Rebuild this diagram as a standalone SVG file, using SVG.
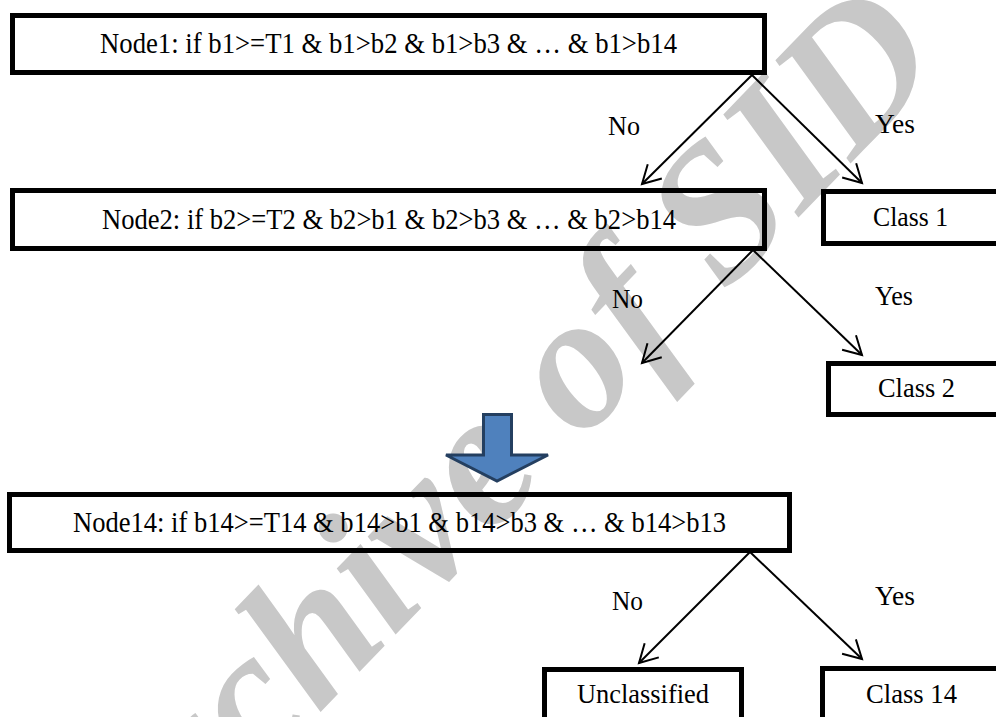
<svg xmlns="http://www.w3.org/2000/svg" width="996" height="717" viewBox="0 0 996 717">
<style>
.box{fill:none;stroke:#000;stroke-width:5}
.t{fill:#000}
.n{font-size:29px}
.l{font-size:28px}
.c{stroke:#000;stroke-width:2;fill:none}
.wm{font-weight:bold;font-style:italic;font-size:192px;fill:#c8c8c8}
</style>
<defs>
<marker id="ah" markerUnits="userSpaceOnUse" markerWidth="24" markerHeight="24" viewBox="-20 -12 24 24" refX="0" refY="0" orient="auto">
<path d="M-18,-10 L0,0 L-18,10" fill="none" stroke="#000" stroke-width="2"/>
</marker>
</defs>
<rect width="996" height="717" fill="#fff"/>
<text class="wm" font-family="'Liberation Serif', 'Times New Roman', serif" x="118" y="922" transform="rotate(-46 118 922)">Archive of SID</text>

<g id="node1">
<rect class="box" x="12.5" y="15.5" width="752" height="57"/>
<text class="t n" font-family="'Liberation Serif', 'Times New Roman', serif" x="100" y="53" textLength="577" lengthAdjust="spacingAndGlyphs">Node1: if b1&gt;=T1 &amp; b1&gt;b2 &amp; b1&gt;b3 &amp; … &amp; b1&gt;b14</text>
</g>
<g id="node2">
<rect class="box" x="12.5" y="190.5" width="752" height="58"/>
<text class="t n" font-family="'Liberation Serif', 'Times New Roman', serif" x="102" y="229" textLength="574" lengthAdjust="spacingAndGlyphs">Node2: if b2&gt;=T2 &amp; b2&gt;b1 &amp; b2&gt;b3 &amp; … &amp; b2&gt;b14</text>
</g>
<g id="class1">
<rect class="box" x="823.5" y="191.5" width="200" height="52"/>
<text class="t l" font-family="'Liberation Serif', 'Times New Roman', serif" x="873" y="226" textLength="75" lengthAdjust="spacingAndGlyphs">Class 1</text>
</g>
<g id="class2">
<rect class="box" x="828.5" y="363.5" width="200" height="51"/>
<text class="t l" font-family="'Liberation Serif', 'Times New Roman', serif" x="878" y="397" textLength="77" lengthAdjust="spacingAndGlyphs">Class 2</text>
</g>
<g id="bigarrow">
<polygon points="483.5,414.5 511.5,414.5 511.5,455 548,455 497,481 446,455 483.5,455" fill="#4F81BD" stroke="#243F60" stroke-width="3" stroke-linejoin="miter"/>
</g>
<g id="node14">
<rect class="box" x="9.5" y="494.5" width="780" height="56"/>
<text class="t n" font-family="'Liberation Serif', 'Times New Roman', serif" x="73" y="532" textLength="653" lengthAdjust="spacingAndGlyphs">Node14: if b14&gt;=T14 &amp; b14&gt;b1 &amp; b14&gt;b3 &amp; … &amp; b14&gt;b13</text>
</g>
<g id="unclassified">
<rect class="box" x="544.5" y="669.5" width="197" height="60"/>
<text class="t l" font-family="'Liberation Serif', 'Times New Roman', serif" x="577" y="703" textLength="132" lengthAdjust="spacingAndGlyphs">Unclassified</text>
</g>
<g id="class14">
<rect class="box" x="822.5" y="668.5" width="200" height="60"/>
<text class="t l" font-family="'Liberation Serif', 'Times New Roman', serif" x="866" y="703" textLength="91" lengthAdjust="spacingAndGlyphs">Class 14</text>
</g>

<g id="connectors">
<line class="c" x1="752" y1="75" x2="642" y2="184" marker-end="url(#ah)"/>
<line class="c" x1="752" y1="75" x2="862" y2="183" marker-end="url(#ah)"/>
<line class="c" x1="753" y1="250" x2="642" y2="363" marker-end="url(#ah)"/>
<line class="c" x1="753" y1="250" x2="862" y2="355" marker-end="url(#ah)"/>
<line class="c" x1="750" y1="552" x2="639" y2="663" marker-end="url(#ah)"/>
<line class="c" x1="750" y1="552" x2="862" y2="659" marker-end="url(#ah)"/>
<text class="t l" font-family="'Liberation Serif', 'Times New Roman', serif" x="608" y="135" textLength="32" lengthAdjust="spacingAndGlyphs">No</text>
<text class="t l" font-family="'Liberation Serif', 'Times New Roman', serif" x="875" y="133" textLength="40" lengthAdjust="spacingAndGlyphs">Yes</text>
<text class="t l" font-family="'Liberation Serif', 'Times New Roman', serif" x="612" y="308" textLength="31" lengthAdjust="spacingAndGlyphs">No</text>
<text class="t l" font-family="'Liberation Serif', 'Times New Roman', serif" x="875" y="305" textLength="38" lengthAdjust="spacingAndGlyphs">Yes</text>
<text class="t l" font-family="'Liberation Serif', 'Times New Roman', serif" x="612" y="610" textLength="31" lengthAdjust="spacingAndGlyphs">No</text>
<text class="t l" font-family="'Liberation Serif', 'Times New Roman', serif" x="875" y="605" textLength="40" lengthAdjust="spacingAndGlyphs">Yes</text>
</g>
</svg>
